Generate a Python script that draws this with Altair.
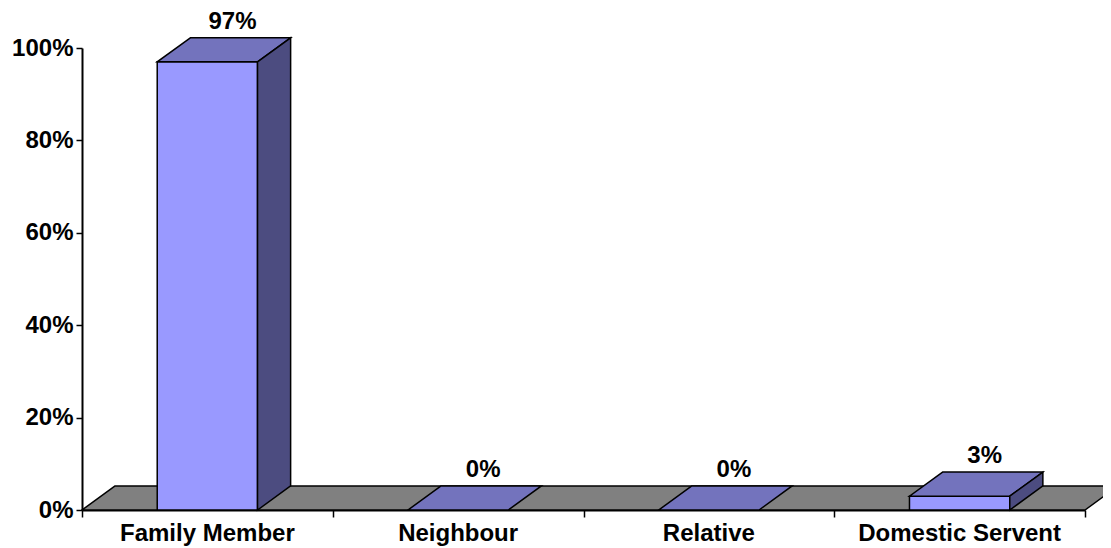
import altair as alt
import pandas as pd

categories = ["Family Member", "Neighbour", "Relative", "Domestic Servent"]
values = [0.97, 0.0, 0.0, 0.03]
y_ticks = [0, 0.2, 0.4, 0.6, 0.8, 1.0]

# style constants (in scale units)
BAR_W = 0.4
DX = 0.132
DY = 0.052
LABEL_DX = 0.1
FONT = "Liberation Sans"
N = len(categories)

front_rows, top_rows, side_rows, label_rows = [], [], [], []
for i, (c, v) in enumerate(zip(categories, values)):
    cx = i + 0.5
    l, r = cx - BAR_W / 2, cx + BAR_W / 2
    if v > 0:
        front_rows.append({"cat": c, "x": l, "x2": r, "y": 0, "y2": v})
        side_rows.append({"cat": c, "x": r, "y": 0, "y2": v})
        side_rows.append({"cat": c, "x": r + DX, "y": DY, "y2": v + DY})
    top_rows.append({"cat": c, "y": v, "x": l, "x2": r})
    top_rows.append({"cat": c, "y": v + DY, "x": l + DX, "x2": r + DX})
    label_rows.append({"cat": c, "x": cx + LABEL_DX, "y": v + DY,
                       "txt": f"{round(v * 100)}%", "cx": cx, "zero": 0})

floor = pd.DataFrame({"y": [0, DY], "x": [0, DX], "x2": [N, N + DX]})
front = pd.DataFrame(front_rows)
top = pd.DataFrame(top_rows)
side = pd.DataFrame(side_rows)
labels = pd.DataFrame(label_rows)

xs = alt.Scale(domain=[0, N], nice=False, zero=False)
ys = alt.Scale(domain=[0, 1], nice=False)

floor_layer = alt.Chart(floor).mark_area(
    orient="horizontal", color="#808080", stroke="black", strokeWidth=1.5
).encode(
    y=alt.Y("y:Q", scale=ys, title=None, axis=alt.Axis(
        values=y_ticks, format=".0%", grid=False, title=None,
        labelFont=FONT, labelFontWeight="bold", labelFontSize=24,
        labelColor="black", tickSize=6, labelPadding=3,
        domainColor="black", tickColor="black", domainWidth=2, tickWidth=1.5)),
    x=alt.X("x:Q", scale=xs, title=None, axis=alt.Axis(
        values=list(range(N + 1)), labels=False, grid=False, title=None,
        tickSize=7, domainColor="black", tickColor="black",
        domainWidth=2, tickWidth=1.5)),
    x2="x2:Q",
)

front_layer = alt.Chart(front).mark_rect(
    color="#9999FF", stroke="black", strokeWidth=1.5
).encode(
    x=alt.X("x:Q", scale=xs, title=None), x2="x2:Q",
    y=alt.Y("y:Q", scale=ys, title=None), y2="y2:Q",
)

top_layer = alt.Chart(top).mark_area(
    orient="horizontal", color="#7373BD", stroke="black", strokeWidth=1.5
).encode(
    y=alt.Y("y:Q", scale=ys, title=None),
    x=alt.X("x:Q", scale=xs, title=None), x2="x2:Q",
    detail="cat:N",
)

side_layer = alt.Chart(side).mark_area(
    orient="vertical", color="#4C4C80", stroke="black", strokeWidth=1.5
).encode(
    x=alt.X("x:Q", scale=xs, title=None),
    y=alt.Y("y:Q", scale=ys, title=None), y2="y2:Q",
    detail="cat:N",
)

value_text = alt.Chart(labels).mark_text(
    font=FONT, fontWeight="bold", fontSize=24, color="black",
    baseline="middle", align="center", dy=-16
).encode(
    x=alt.X("x:Q", scale=xs, title=None),
    y=alt.Y("y:Q", scale=ys, title=None),
    text="txt:N",
)

cat_text = alt.Chart(labels).mark_text(
    font=FONT, fontWeight="bold", fontSize=24, color="black",
    baseline="middle", align="center", dy=24
).encode(
    x=alt.X("cx:Q", scale=xs, title=None),
    y=alt.Y("zero:Q", scale=ys, title=None),
    text="cat:N",
)

chart = alt.layer(
    floor_layer, front_layer, top_layer, side_layer, value_text, cat_text
).properties(
    width=1003, height=462,
    autosize=alt.AutoSizeParams(type="none"),
    padding={"left": 74, "top": 40, "right": 18, "bottom": 38},
).configure_view(stroke=None)

chart.save("out.html", embed_options={"renderer": "svg", "actions": False})
